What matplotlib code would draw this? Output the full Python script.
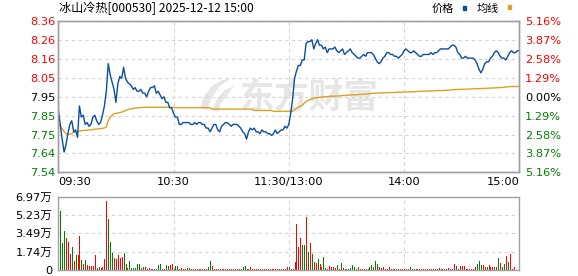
import numpy as np
import matplotlib
matplotlib.use("Agg")
import matplotlib.pyplot as plt
from matplotlib.patches import Rectangle, Polygon

plt.rcParams["font.family"] = ["DejaVu Sans", "Noto Sans CJK SC"]

# --- data (one value per minute, 09:30 .. 15:00) ---
price = [
    7.88, 7.80, 7.72, 7.65, 7.69, 7.75, 7.80, 7.82, 7.76, 7.77,
    7.73, 7.90, 7.84, 7.85, 7.80, 7.81, 7.79, 7.80, 7.84, 7.85,
    7.82, 7.80, 7.81, 7.85, 7.90, 7.98, 8.13, 8.07, 8.03, 7.99,
    7.92, 8.02, 8.06, 8.05, 8.11, 8.05, 8.03, 8.02, 8.01, 7.99,
    8.00, 7.98, 7.98, 7.99, 7.97, 7.97, 7.95, 7.98, 8.00, 8.00,
    8.01, 7.97, 7.98, 7.96, 7.94, 7.95, 7.92, 7.92, 7.89, 7.89,
    7.86, 7.84, 7.84, 7.80, 7.80, 7.81, 7.81, 7.81, 7.81, 7.80,
    7.80, 7.81, 7.80, 7.81, 7.81, 7.80, 7.80, 7.78, 7.78, 7.76,
    7.78, 7.80, 7.80, 7.77, 7.76, 7.79, 7.80, 7.81, 7.81, 7.80,
    7.79, 7.80, 7.80, 7.80, 7.79, 7.78, 7.76, 7.75, 7.72, 7.76,
    7.78, 7.77, 7.78, 7.76, 7.76, 7.75, 7.77, 7.76, 7.76, 7.75,
    7.75, 7.74, 7.75, 7.77, 7.75, 7.76, 7.77, 7.77, 7.79, 7.78,
    7.80, 7.86, 7.94, 8.05, 8.09, 8.12, 8.12, 8.15, 8.15, 8.24,
    8.25, 8.25, 8.26, 8.21, 8.24, 8.26, 8.23, 8.23, 8.21, 8.22,
    8.19, 8.21, 8.21, 8.21, 8.22, 8.20, 8.19, 8.20, 8.21, 8.18,
    8.19, 8.20, 8.21, 8.19, 8.18, 8.17, 8.16, 8.16, 8.17, 8.18,
    8.17, 8.19, 8.19, 8.19, 8.18, 8.16, 8.14, 8.13, 8.14, 8.16,
    8.17, 8.19, 8.19, 8.18, 8.18, 8.17, 8.17, 8.16, 8.17, 8.18,
    8.20, 8.21, 8.20, 8.19, 8.19, 8.20, 8.19, 8.18, 8.17, 8.17,
    8.18, 8.18, 8.18, 8.18, 8.19, 8.18, 8.19, 8.19, 8.20, 8.21,
    8.21, 8.21, 8.21, 8.21, 8.22, 8.23, 8.23, 8.22, 8.19, 8.18,
    8.16, 8.16, 8.17, 8.16, 8.16, 8.16, 8.16, 8.15, 8.13, 8.10,
    8.08, 8.10, 8.13, 8.14, 8.14, 8.16, 8.17, 8.19, 8.20, 8.19,
    8.17, 8.16, 8.16, 8.15, 8.17, 8.19, 8.20, 8.19, 8.19, 8.20,
    8.20,
]

avg_price = [
    7.802, 7.790, 7.777, 7.762, 7.750, 7.748, 7.747, 7.750, 7.757, 7.758,
    7.760, 7.764, 7.766, 7.767, 7.768, 7.769, 7.770, 7.771, 7.772, 7.774,
    7.775, 7.776, 7.777, 7.779, 7.781, 7.786, 7.822, 7.840, 7.849, 7.858,
    7.860, 7.862, 7.864, 7.867, 7.871, 7.876, 7.880, 7.883, 7.885, 7.887,
    7.889, 7.890, 7.891, 7.891, 7.892, 7.893, 7.893, 7.893, 7.893, 7.893,
    7.893, 7.893, 7.893, 7.893, 7.893, 7.893, 7.893, 7.893, 7.893, 7.893,
    7.893, 7.891, 7.891, 7.891, 7.891, 7.891, 7.891, 7.891, 7.891, 7.891,
    7.891, 7.891, 7.891, 7.891, 7.891, 7.891, 7.891, 7.891, 7.891, 7.891,
    7.883, 7.883, 7.883, 7.883, 7.883, 7.883, 7.883, 7.883, 7.883, 7.883,
    7.883, 7.883, 7.883, 7.883, 7.883, 7.883, 7.883, 7.883, 7.883, 7.883,
    7.883, 7.883, 7.876, 7.876, 7.876, 7.876, 7.876, 7.876, 7.876, 7.876,
    7.876, 7.876, 7.871, 7.871, 7.871, 7.871, 7.871, 7.871, 7.871, 7.871,
    7.871, 7.871, 7.871, 7.880, 7.887, 7.894, 7.899, 7.903, 7.916, 7.924,
    7.930, 7.935, 7.939, 7.942, 7.945, 7.946, 7.947, 7.948, 7.950, 7.951,
    7.951, 7.952, 7.953, 7.953, 7.954, 7.954, 7.955, 7.955, 7.957, 7.957,
    7.958, 7.959, 7.960, 7.961, 7.961, 7.962, 7.963, 7.964, 7.964, 7.965,
    7.965, 7.966, 7.967, 7.968, 7.969, 7.970, 7.970, 7.971, 7.971, 7.972,
    7.972, 7.972, 7.973, 7.973, 7.973, 7.974, 7.974, 7.975, 7.975, 7.975,
    7.976, 7.976, 7.977, 7.977, 7.977, 7.978, 7.978, 7.979, 7.979, 7.980,
    7.980, 7.981, 7.981, 7.981, 7.982, 7.982, 7.983, 7.983, 7.984, 7.984,
    7.984, 7.985, 7.985, 7.986, 7.987, 7.988, 7.989, 7.989, 7.990, 7.990,
    7.990, 7.991, 7.991, 7.992, 7.992, 7.993, 7.993, 7.994, 7.994, 7.995,
    7.995, 7.995, 7.996, 7.996, 7.997, 7.997, 7.998, 7.998, 7.999, 8.000,
    8.000, 8.001, 8.002, 8.003, 8.004, 8.005, 8.006, 8.006, 8.006, 8.006,
    8.006,
]

# volume in 万 (10k) per minute, and 1 = up (red) / 0 = down (green)
volume = [
    0.00, 5.63, 2.61, 3.72, 3.03, 2.70, 1.53, 2.17, 0.86, 1.43,
    1.43, 3.25, 0.95, 0.54, 0.95, 0.48, 0.38, 0.38, 0.38, 1.43,
    0.16, 0.32, 0.16, 0.32, 1.02, 6.52, 4.87, 2.70, 1.59, 1.12,
    1.02, 1.43, 1.12, 1.21, 1.65, 0.57, 0.22, 0.89, 0.22, 0.22,
    0.22, 0.57, 0.57, 0.22, 0.32, 0.32, 0.13, 0.16, 0.12, 0.12,
    0.12, 0.12, 0.48, 0.57, 0.12, 0.10, 0.48, 0.38, 0.48, 0.54,
    0.12, 0.38, 0.38, 0.12, 0.19, 0.12, 0.12, 0.19, 0.19, 0.10,
    0.10, 0.10, 0.10, 0.12, 0.10, 0.10, 0.10, 0.12, 0.32, 0.89,
    0.38, 0.12, 0.12, 0.12, 0.10, 0.10, 0.10, 0.10, 0.10, 0.10,
    0.10, 0.10, 0.10, 0.10, 0.10, 0.10, 0.25, 0.38, 0.10, 0.12,
    0.25, 0.10, 0.10, 0.10, 0.10, 0.10, 0.10, 0.10, 0.10, 0.10,
    0.10, 0.10, 0.10, 0.10, 0.10, 0.10, 0.10, 0.10, 0.10, 0.32,
    0.26, 0.12, 0.12, 0.76, 4.39, 2.17, 3.03, 2.39, 2.39, 5.03,
    1.75, 2.55, 1.53, 0.79, 0.64, 1.02, 0.54, 0.32, 1.21, 0.19,
    0.13, 0.38, 0.32, 0.32, 0.19, 0.48, 0.12, 0.70, 0.19, 0.12,
    0.12, 0.12, 0.19, 0.48, 0.32, 0.12, 0.32, 0.12, 0.12, 0.12,
    0.12, 0.12, 0.32, 0.48, 0.32, 0.83, 0.60, 0.32, 0.19, 0.25,
    0.12, 0.12, 0.25, 0.12, 0.12, 0.12, 0.12, 0.12, 0.12, 0.12,
    0.12, 0.12, 0.12, 0.32, 0.12, 0.12, 0.12, 0.12, 0.12, 0.12,
    0.12, 0.12, 0.12, 0.12, 0.12, 0.12, 0.12, 0.12, 0.19, 0.12,
    0.12, 0.12, 0.12, 0.19, 0.12, 0.12, 0.60, 0.38, 0.12, 0.38,
    0.38, 0.38, 0.12, 0.12, 0.12, 0.12, 0.12, 0.32, 0.57, 0.89,
    0.48, 0.48, 0.32, 0.32, 0.48, 0.32, 0.25, 0.32, 0.32, 1.12,
    0.70, 0.25, 0.57, 1.34, 0.76, 1.53, 0.10, 0.25, 0.00, 0.00,
    1.05,
]

vol_up = [
    1, 0, 0, 0, 1, 1, 1, 0, 1, 0,
    1, 1, 0, 1, 0, 1, 1, 1, 1, 1,
    0, 1, 0, 1, 1, 1, 0, 0, 0, 1,
    1, 1, 1, 1, 0, 0, 1, 0, 0, 0,
    0, 0, 0, 1, 0, 1, 1, 1, 1, 1,
    0, 0, 0, 0, 1, 0, 0, 1, 1, 1,
    1, 0, 0, 1, 1, 1, 1, 0, 0, 1,
    1, 1, 1, 1, 1, 1, 1, 1, 0, 0,
    1, 0, 0, 1, 1, 1, 1, 1, 1, 1,
    1, 1, 1, 1, 1, 1, 0, 0, 1, 0,
    1, 1, 1, 1, 1, 1, 1, 1, 1, 1,
    1, 1, 1, 1, 1, 1, 1, 1, 1, 1,
    0, 1, 1, 1, 1, 1, 1, 0, 0, 1,
    0, 1, 0, 1, 1, 0, 1, 1, 0, 0,
    1, 1, 1, 1, 1, 0, 1, 0, 1, 0,
    0, 0, 0, 0, 0, 1, 0, 1, 1, 1,
    1, 0, 0, 0, 1, 0, 0, 1, 1, 1,
    1, 1, 1, 1, 1, 1, 1, 1, 1, 1,
    1, 1, 1, 0, 1, 1, 1, 1, 1, 1,
    1, 1, 1, 1, 1, 1, 1, 1, 1, 1,
    1, 1, 1, 1, 1, 1, 1, 0, 0, 1,
    1, 1, 1, 1, 1, 1, 1, 1, 0, 0,
    0, 1, 1, 0, 1, 1, 1, 0, 1, 0,
    1, 0, 0, 1, 0, 1, 1, 1, 1, 1,
    1,
]

prev_close = 7.95
price_lo, price_hi = 7.54, 8.36
price_labels = ["7.54", "7.64", "7.75", "7.85", "7.95", "8.05", "8.16", "8.26", "8.36"]
pct_labels = ["5.16%", "3.87%", "2.58%", "1.29%", "0.00%", "1.29%", "2.58%", "3.87%", "5.16%"]
vol_ticks = [0, 1.74, 3.49, 5.23, 6.97]
vol_labels = ["0", "1.74万", "3.49万", "5.23万", "6.97万"]
time_ticks = [0, 60, 120, 180, 240]
time_labels = ["09:30", "10:30", "11:30/13:00", "14:00", "15:00"]
title = "冰山冷热[000530] 2025-12-12 15:00"

RED = "#ff0000"
GREEN = "#008000"
FRAME = "#a0a0a0"
GRID = "#d4d4d4"
BLUE = "#0a4ea0"
GOLD = "#e0a020"
MARK = "#e6e6e6"
W, H = 578, 276

minutes = np.arange(len(price))

fig = plt.figure(figsize=(W / 100, H / 100), dpi=100)
ax = fig.add_axes([58.3 / W, 1 - 172.3 / H, 461 / W, 151 / H])
axv = fig.add_axes([58.3 / W, 1 - 270 / H, 461 / W, 73.3 / H])


def style_frame(a):
    for s in a.spines.values():
        s.set_color(FRAME)
        s.set_linewidth(1.0)
    a.tick_params(length=0)


def label_color(v):
    if v > prev_close + 1e-6:
        return RED
    if v < prev_close - 1e-6:
        return GREEN
    return "black"


# watermark: logo swoosh + name
def px(x, y):
    return ((x - 58.3) / 461, (172.3 - y) / 151)


for pts in ([(200, 108), (204, 96), (212, 86), (222, 80), (230, 79), (220, 86), (212, 97), (207, 110)],
            [(212, 110), (217, 99), (225, 90), (234, 86), (228, 94), (221, 104), (218, 112)]):
    ax.add_patch(Polygon([px(x, y) for x, y in pts], closed=True, transform=ax.transAxes,
                         facecolor=MARK, edgecolor="none", zorder=0))
ax.text(0.545, 0.5, "东方财富", transform=ax.transAxes, ha="center", va="center",
        fontsize=25, fontweight="bold", color=MARK,
        family=["Noto Sans CJK SC"], zorder=0)

ax.plot(minutes, price, color=BLUE, lw=1.0, zorder=3)
ax.plot(minutes, avg_price, color=GOLD, lw=1.0, zorder=2)
ax.set_xlim(0, 240)
ax.set_ylim(price_lo, price_hi)
yt = np.linspace(price_lo, price_hi, len(price_labels))
ax.set_yticks(yt)
ax.set_yticklabels(price_labels, fontsize=8.2)
for lab, v in zip(ax.get_yticklabels(), yt):
    lab.set_color(label_color(v))
ax.set_xticks(time_ticks)
ax.set_xticklabels(time_labels, fontsize=8.2)
xl = ax.get_xticklabels()
xl[0].set_ha("left")
xl[-1].set_ha("right")
ax.grid(True, ls=(0, (3, 3)), color=GRID, lw=0.8)
ax.set_axisbelow(True)
style_frame(ax)
ax.tick_params(axis="y", pad=2.0)
ax.tick_params(axis="x", pad=3.5)

ax2 = ax.twinx()
ax2.set_ylim(price_lo, price_hi)
ax2.set_yticks(yt)
ax2.set_yticklabels(pct_labels, fontsize=8.2)
for lab, v in zip(ax2.get_yticklabels(), yt):
    lab.set_color(label_color(v))
style_frame(ax2)
ax2.tick_params(axis="y", pad=4.0)

# volume
colors = [RED if u else GREEN for u in vol_up]
axv.vlines(minutes, 0, volume, colors=colors, lw=0.55, antialiased=False)
axv.set_xlim(0, 240)
axv.set_ylim(0, vol_ticks[-1])
axv.set_yticks(vol_ticks)
axv.set_yticklabels(vol_labels, fontsize=8.2)
axv.set_xticks(time_ticks)
axv.set_xticklabels([])
axv.grid(True, ls=(0, (3, 3)), color=GRID, lw=0.8)
axv.set_axisbelow(True)
style_frame(axv)
axv.tick_params(axis="y", pad=4.5)

# title and legend
fig.text(59 / W, 1 - 8.5 / H, title, ha="left", va="center", fontsize=8.7,
         family=["Noto Sans CJK SC"])
fig.text(431.5 / W, 1 - 8.5 / H, "价格", ha="left", va="center", fontsize=8.0,
         family=["Noto Sans CJK SC"])
fig.text(476.5 / W, 1 - 8.5 / H, "均线", ha="left", va="center", fontsize=8.0,
         family=["Noto Sans CJK SC"])
fig.add_artist(Rectangle((462.5 / W, 1 - 9.5 / H), 3 / W, 3 / H, color=BLUE,
                         transform=fig.transFigure))
fig.add_artist(Rectangle((507.5 / W, 1 - 8.5 / H), 3 / W, 3 / H, color=GOLD,
                         transform=fig.transFigure))

fig.savefig("out.png", dpi=100)
